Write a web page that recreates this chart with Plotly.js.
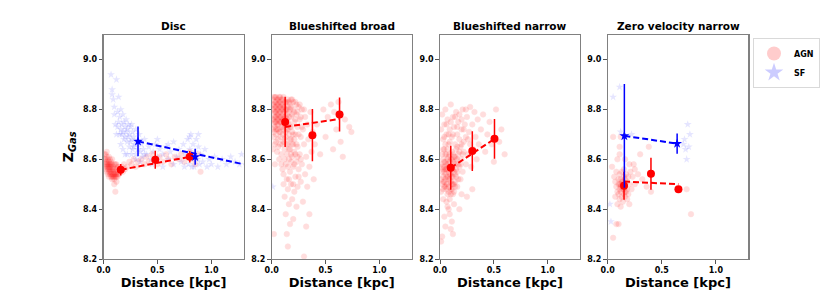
<!DOCTYPE html>
<html><head><meta charset="utf-8">
<script src="https://cdn.plot.ly/plotly-3.0.1.min.js"></script>
<style>html,body{margin:0;padding:0;background:#fff}#chart{width:831px;height:291px}</style>
</head><body><div id="chart"></div>
<script>
// ---- Panel titles ----
const panelTitles = ["Disc", "Blueshifted broad", "Blueshifted narrow", "Zero velocity narrow"];
const xTickVals = [0.0, 0.5, 1.0];
const yTickVals = [8.2, 8.4, 8.6, 8.8, 9.0];

// ---- Disc: individual spaxels ----
const discAGN = [[0.01,8.60],[0.01,8.57],[0.02,8.62],[0.02,8.59],[0.02,8.56],[0.03,8.61],[0.03,8.58],[0.03,8.55],[0.03,8.63],[0.04,8.60],[0.04,8.57],[0.04,8.54],[0.05,8.59],[0.05,8.56],[0.05,8.53],[0.05,8.61],[0.06,8.58],[0.06,8.55],[0.06,8.54],[0.07,8.57],[0.07,8.55],[0.07,8.53],[0.08,8.56],[0.08,8.54],[0.08,8.52],[0.09,8.55],[0.09,8.53],[0.09,8.57],[0.10,8.54],[0.10,8.52],[0.10,8.50],[0.11,8.55],[0.11,8.53],[0.11,8.47],[0.12,8.56],[0.12,8.54],[0.12,8.51],[0.13,8.55],[0.13,8.53],[0.14,8.57],[0.14,8.54],[0.15,8.56],[0.16,8.55],[0.17,8.57],[0.18,8.55],[0.19,8.58],[0.20,8.56],[0.22,8.57],[0.24,8.59],[0.26,8.58],[0.28,8.60],[0.30,8.57],[0.32,8.59],[0.35,8.60],[0.38,8.58],[0.40,8.61],[0.42,8.59],[0.45,8.62],[0.48,8.60],[0.50,8.58],[0.52,8.61],[0.55,8.59],[0.58,8.62],[0.60,8.60],[0.63,8.58],[0.66,8.61],[0.70,8.60],[0.72,8.62],[0.75,8.59],[0.78,8.61],[0.80,8.63],[0.82,8.60],[0.85,8.58],[0.88,8.62],[0.90,8.55],[0.02,8.58],[0.04,8.58],[0.06,8.56],[0.07,8.59],[0.08,8.58],[0.09,8.56],[0.10,8.56],[0.03,8.57],[0.05,8.57],[0.06,8.60],[0.11,8.58],[0.12,8.58],[0.13,8.57],[0.08,8.60],[0.10,8.58],[0.01,8.62],[0.02,8.60],[0.03,8.59],[0.04,8.56],[0.05,8.55],[0.06,8.57],[0.07,8.54],[0.08,8.53],[0.09,8.54],[0.10,8.53],[0.11,8.54],[0.12,8.53],[0.13,8.54],[0.05,8.58],[0.07,8.58]];
const discSF = [[0.07,8.94],[0.08,8.88],[0.08,8.86],[0.09,8.84],[0.10,8.81],[0.12,8.92],[0.13,8.79],[0.14,8.85],[0.15,8.77],[0.16,8.80],[0.17,8.74],[0.18,8.78],[0.18,8.71],[0.19,8.75],[0.20,8.73],[0.20,8.69],[0.21,8.76],[0.22,8.72],[0.22,8.67],[0.23,8.74],[0.24,8.70],[0.24,8.65],[0.25,8.73],[0.26,8.68],[0.27,8.71],[0.27,8.64],[0.28,8.69],[0.29,8.66],[0.30,8.72],[0.30,8.62],[0.31,8.67],[0.32,8.64],[0.33,8.70],[0.34,8.63],[0.35,8.66],[0.36,8.61],[0.37,8.64],[0.38,8.68],[0.40,8.62],[0.42,8.65],[0.44,8.60],[0.46,8.63],[0.48,8.66],[0.50,8.61],[0.52,8.64],[0.55,8.62],[0.58,8.65],[0.60,8.60],[0.62,8.63],[0.65,8.67],[0.68,8.61],[0.70,8.64],[0.72,8.59],[0.74,8.66],[0.76,8.62],[0.78,8.68],[0.79,8.58],[0.80,8.64],[0.81,8.70],[0.82,8.61],[0.83,8.66],[0.84,8.57],[0.85,8.63],[0.86,8.68],[0.87,8.60],[0.88,8.65],[0.89,8.58],[0.90,8.62],[0.92,8.59],[0.94,8.64],[0.96,8.57],[0.98,8.60],[1.00,8.58],[1.03,8.61],[1.06,8.57],[1.10,8.60],[1.14,8.58],[1.18,8.61],[1.22,8.59],[1.26,8.58],[1.28,8.62],[0.16,8.72],[0.17,8.70],[0.19,8.68],[0.21,8.71],[0.23,8.69],[0.25,8.67],[0.26,8.74],[0.28,8.65],[0.14,8.75],[0.15,8.70],[0.13,8.73],[0.10,8.78],[0.11,8.74],[0.12,8.70],[0.16,8.66],[0.18,8.64],[0.20,8.62],[0.22,8.62],[0.26,8.62],[0.30,8.60],[0.34,8.59],[0.38,8.62],[0.45,8.58],[0.55,8.57],[0.65,8.58],[0.75,8.57],[0.82,8.57],[0.86,8.60],[0.88,8.70],[0.80,8.69],[0.60,8.66],[0.50,8.68]];

// ---- Blueshifted broad ----
const broadAGN = [[0.01,8.84],[0.01,8.80],[0.01,8.76],[0.01,8.72],[0.02,8.82],[0.02,8.78],[0.02,8.74],[0.02,8.69],[0.03,8.85],[0.03,8.81],[0.03,8.77],[0.03,8.73],[0.03,8.66],[0.04,8.83],[0.04,8.79],[0.04,8.75],[0.04,8.70],[0.05,8.84],[0.05,8.80],[0.05,8.76],[0.05,8.72],[0.05,8.63],[0.06,8.82],[0.06,8.78],[0.06,8.74],[0.06,8.68],[0.07,8.85],[0.07,8.81],[0.07,8.77],[0.07,8.71],[0.07,8.60],[0.08,8.83],[0.08,8.79],[0.08,8.75],[0.08,8.66],[0.09,8.84],[0.09,8.80],[0.09,8.73],[0.09,8.62],[0.10,8.82],[0.10,8.78],[0.10,8.70],[0.10,8.56],[0.11,8.85],[0.11,8.76],[0.11,8.67],[0.11,8.50],[0.12,8.81],[0.12,8.74],[0.12,8.64],[0.12,8.45],[0.13,8.83],[0.13,8.77],[0.13,8.69],[0.13,8.58],[0.13,8.38],[0.14,8.80],[0.14,8.72],[0.14,8.62],[0.14,8.52],[0.14,8.30],[0.15,8.84],[0.15,8.75],[0.15,8.66],[0.15,8.48],[0.15,8.25],[0.16,8.79],[0.16,8.70],[0.16,8.60],[0.16,8.42],[0.17,8.82],[0.17,8.73],[0.17,8.64],[0.17,8.55],[0.17,8.34],[0.18,8.77],[0.18,8.68],[0.18,8.50],[0.19,8.84],[0.19,8.71],[0.19,8.61],[0.19,8.44],[0.20,8.80],[0.20,8.66],[0.20,8.57],[0.20,8.36],[0.21,8.75],[0.21,8.63],[0.21,8.47],[0.22,8.83],[0.22,8.70],[0.22,8.53],[0.23,8.78],[0.23,8.59],[0.23,8.41],[0.24,8.73],[0.24,8.65],[0.24,8.49],[0.25,8.81],[0.25,8.56],[0.26,8.76],[0.26,8.62],[0.27,8.69],[0.27,8.51],[0.28,8.80],[0.28,8.58],[0.29,8.72],[0.29,8.43],[0.30,8.66],[0.30,8.21],[0.31,8.77],[0.31,8.54],[0.32,8.61],[0.32,8.33],[0.33,8.74],[0.33,8.49],[0.34,8.68],[0.35,8.57],[0.35,8.38],[0.36,8.79],[0.37,8.63],[0.38,8.71],[0.39,8.52],[0.40,8.66],[0.42,8.74],[0.45,8.62],[0.48,8.80],[0.50,8.69],[0.52,8.77],[0.55,8.82],[0.57,8.64],[0.58,8.79],[0.60,8.72],[0.62,8.83],[0.64,8.67],[0.66,8.61],[0.68,8.76],[0.72,8.73],[0.74,8.71],[0.02,8.30],[0.03,8.58],[0.01,8.64],[0.02,8.80],[0.04,8.81],[0.06,8.80],[0.08,8.81],[0.10,8.80],[0.12,8.79],[0.14,8.78],[0.16,8.83],[0.18,8.81],[0.05,8.78],[0.07,8.75],[0.09,8.77],[0.11,8.72],[0.13,8.74],[0.03,8.79],[0.06,8.76],[0.01,8.82],[0.02,8.85],[0.02,8.76],[0.03,8.83],[0.03,8.75],[0.04,8.85],[0.04,8.77],[0.04,8.72],[0.05,8.82],[0.05,8.74],[0.06,8.84],[0.06,8.72],[0.07,8.83],[0.07,8.79],[0.08,8.85],[0.08,8.77],[0.08,8.71],[0.09,8.82],[0.09,8.75],[0.10,8.84],[0.10,8.76],[0.10,8.73],[0.11,8.81],[0.11,8.79],[0.12,8.83],[0.12,8.77],[0.13,8.80],[0.13,8.71],[0.14,8.83],[0.14,8.76],[0.15,8.81],[0.15,8.72],[0.16,8.77],[0.16,8.74],[0.17,8.80],[0.17,8.68],[0.18,8.84],[0.18,8.73],[0.19,8.78],[0.19,8.66],[0.20,8.83],[0.20,8.70],[0.21,8.79],[0.21,8.68],[0.22,8.76],[0.22,8.62],[0.23,8.82],[0.23,8.66],[0.24,8.79],[0.25,8.70],[0.26,8.82],[0.27,8.77],[0.28,8.73],[0.30,8.80],[0.12,8.68],[0.10,8.66],[0.14,8.66],[0.16,8.64],[0.18,8.62],[0.08,8.69],[0.06,8.65],[0.04,8.67],[0.02,8.71],[0.09,8.58],[0.12,8.60],[0.15,8.57],[0.18,8.59],[0.21,8.58],[0.24,8.61],[0.27,8.60],[0.11,8.54],[0.16,8.52],[0.20,8.50],[0.25,8.53]];
const broadSF = [[0.01,8.49]];

// ---- Blueshifted narrow ----
const narrowAGN = [[0.01,8.58],[0.01,8.52],[0.01,8.47],[0.01,8.72],[0.02,8.62],[0.02,8.55],[0.02,8.50],[0.02,8.78],[0.03,8.60],[0.03,8.53],[0.03,8.48],[0.03,8.68],[0.04,8.57],[0.04,8.51],[0.04,8.64],[0.04,8.74],[0.05,8.59],[0.05,8.54],[0.05,8.49],[0.05,8.80],[0.06,8.62],[0.06,8.56],[0.06,8.50],[0.06,8.70],[0.07,8.58],[0.07,8.53],[0.07,8.46],[0.07,8.76],[0.08,8.61],[0.08,8.55],[0.08,8.49],[0.08,8.66],[0.09,8.57],[0.09,8.52],[0.09,8.44],[0.09,8.72],[0.10,8.60],[0.10,8.54],[0.10,8.48],[0.10,8.82],[0.11,8.63],[0.11,8.56],[0.11,8.50],[0.11,8.69],[0.12,8.59],[0.12,8.53],[0.12,8.46],[0.12,8.77],[0.13,8.61],[0.13,8.55],[0.13,8.73],[0.14,8.58],[0.14,8.51],[0.14,8.66],[0.15,8.64],[0.15,8.56],[0.15,8.79],[0.16,8.60],[0.16,8.70],[0.16,8.49],[0.17,8.62],[0.17,8.75],[0.18,8.57],[0.18,8.68],[0.19,8.65],[0.19,8.52],[0.20,8.72],[0.20,8.60],[0.21,8.80],[0.21,8.55],[0.22,8.67],[0.22,8.63],[0.23,8.74],[0.24,8.58],[0.24,8.69],[0.25,8.77],[0.26,8.62],[0.27,8.71],[0.28,8.66],[0.28,8.81],[0.29,8.57],[0.30,8.74],[0.31,8.64],[0.32,8.79],[0.33,8.69],[0.34,8.60],[0.35,8.76],[0.36,8.66],[0.38,8.72],[0.40,8.78],[0.42,8.63],[0.44,8.70],[0.46,8.75],[0.48,8.66],[0.50,8.59],[0.52,8.80],[0.55,8.67],[0.60,8.62],[0.57,8.72],[0.01,8.27],[0.02,8.29],[0.04,8.37],[0.05,8.33],[0.07,8.41],[0.09,8.38],[0.10,8.32],[0.11,8.35],[0.12,8.30],[0.13,8.42],[0.06,8.43],[0.08,8.40],[0.03,8.44],[0.18,8.40],[0.25,8.45],[0.30,8.48],[0.20,8.46],[0.04,8.55],[0.06,8.53],[0.08,8.52],[0.10,8.51],[0.12,8.56],[0.09,8.59],[0.07,8.56],[0.05,8.52],[0.03,8.56],[0.11,8.53],[0.13,8.50],[0.14,8.54],[0.02,8.57],[0.03,8.51],[0.04,8.59],[0.04,8.49],[0.05,8.56],[0.05,8.62],[0.06,8.58],[0.06,8.48],[0.07,8.60],[0.07,8.50],[0.08,8.57],[0.08,8.47],[0.09,8.54],[0.09,8.62],[0.10,8.57],[0.10,8.46],[0.11,8.60],[0.11,8.48],[0.12,8.62],[0.12,8.50],[0.13,8.58],[0.13,8.47],[0.14,8.61],[0.14,8.49],[0.15,8.53],[0.15,8.60],[0.16,8.55],[0.16,8.65],[0.17,8.58],[0.17,8.52],[0.18,8.63],[0.19,8.58],[0.20,8.66],[0.21,8.62],[0.08,8.70],[0.10,8.75],[0.12,8.70],[0.14,8.77],[0.16,8.73],[0.18,8.78],[0.20,8.76],[0.22,8.72],[0.24,8.80],[0.26,8.68],[0.06,8.74],[0.04,8.69],[0.03,8.64],[0.05,8.66],[0.07,8.64],[0.09,8.67]];

// ---- Zero velocity narrow ----
const zeroAGN = [[0.05,8.69],[0.12,8.69],[0.11,8.65],[0.11,8.62],[0.04,8.57],[0.09,8.60],[0.16,8.60],[0.24,8.58],[0.25,8.56],[0.20,8.58],[0.38,8.65],[0.30,8.62],[0.15,8.56],[0.08,8.55],[0.06,8.53],[0.07,8.51],[0.08,8.49],[0.09,8.47],[0.10,8.52],[0.10,8.50],[0.10,8.46],[0.11,8.54],[0.11,8.48],[0.11,8.44],[0.12,8.52],[0.12,8.50],[0.12,8.47],[0.13,8.55],[0.13,8.49],[0.13,8.45],[0.14,8.51],[0.14,8.48],[0.14,8.43],[0.15,8.53],[0.15,8.50],[0.15,8.46],[0.16,8.52],[0.16,8.49],[0.16,8.45],[0.17,8.54],[0.17,8.47],[0.18,8.51],[0.18,8.48],[0.19,8.53],[0.19,8.46],[0.20,8.50],[0.21,8.55],[0.22,8.48],[0.23,8.53],[0.25,8.50],[0.28,8.54],[0.32,8.52],[0.09,8.42],[0.12,8.41],[0.18,8.44],[0.20,8.42],[0.08,8.34],[0.10,8.34],[0.05,8.285],[0.77,8.38],[0.73,8.48],[0.40,8.47],[0.36,8.49],[0.07,8.45],[0.13,8.51],[0.14,8.50],[0.12,8.49],[0.11,8.50],[0.15,8.48],[0.16,8.47]];
const zeroSF = [[0.05,8.85],[0.11,8.89],[0.03,8.35],[0.02,8.42],[0.12,8.71],[0.22,8.70],[0.70,8.66],[0.72,8.64],[0.74,8.74],[0.76,8.70],[0.73,8.60],[0.71,8.68],[0.75,8.65]];

// ---- Binned medians (x, y, error) ----
const discAgnBinX = [0.16, 0.48, 0.80], discAgnBinY = [8.558, 8.598, 8.610], discAgnBinErr = [0.023, 0.036, 0.023];
const discSfBinX = [0.32, 0.85], discSfBinY = [8.672, 8.610], discSfBinErr = [0.060, 0.032];
const broadAgnBinX = [0.125, 0.378, 0.63], broadAgnBinY = [8.750, 8.697, 8.780], broadAgnBinErr = [0.101, 0.105, 0.068];
const narrowAgnBinX = [0.10, 0.30, 0.506], narrowAgnBinY = [8.566, 8.633, 8.682], narrowAgnBinErr = [0.088, 0.080, 0.080];
const zeroAgnBinX = [0.151, 0.40, 0.654], zeroAgnBinY = [8.494, 8.542, 8.480], zeroAgnBinErr = [0.056, 0.064, 0.0];
const zeroSfBinX = [0.154, 0.642], zeroSfBinY = [8.694, 8.663], zeroSfBinErr = [0.208, 0.041];

// ---- Linear fits (dashed) ----
const discAgnFitX = [0.16, 0.80], discAgnFitY = [8.558, 8.610];
const discSfFitX = [0.32, 1.30], discSfFitY = [8.672, 8.580];
const broadAgnFitX = [0.125, 0.63], broadAgnFitY = [8.730, 8.762];
const narrowAgnFitX = [0.10, 0.506], narrowAgnFitY = [8.566, 8.682];
const zeroAgnFitX = [0.151, 0.654], zeroAgnFitY = [8.511, 8.500];
const zeroSfFitX = [0.154, 0.642], zeroSfFitY = [8.694, 8.663];

const RED = '#ff0000', BLUE = '#0000ff';
const traces = [];
function cloud(pts, ax, kind) {
  const isSF = kind === 'SF';
  traces.push({
    x: pts.map(p => p[0]), y: pts.map(p => p[1]), xaxis: 'x' + ax, yaxis: 'y' + ax,
    type: 'scatter', mode: 'markers', showlegend: false, hoverinfo: 'skip',
    marker: isSF ? {symbol: 'star', size: 6, color: BLUE, opacity: 0.1, line: {width: 0}}
                 : {symbol: 'circle', size: 5.5, color: RED, opacity: 0.13, line: {width: 0.6, color: RED}}
  });
}
function fit(x, y, ax, col) {
  traces.push({x: x, y: y, xaxis: 'x' + ax, yaxis: 'y' + ax, type: 'scatter', mode: 'lines',
    showlegend: false, line: {color: col, width: 2, dash: '6px,3px'}});
}
function bins(x, y, e, ax, col, sym) {
  traces.push({x: x, y: y, xaxis: 'x' + ax, yaxis: 'y' + ax, type: 'scatter', mode: 'markers',
    showlegend: false, marker: {symbol: sym, size: sym === 'star' ? 7.5 : 8, color: col},
    error_y: {type: 'data', array: e, visible: true, color: col, thickness: 1.5, width: 0}});
}

cloud(discAGN, '', 'AGN'); cloud(discSF, '', 'SF');
cloud(broadAGN, '2', 'AGN'); cloud(broadSF, '2', 'SF');
cloud(narrowAGN, '3', 'AGN');
cloud(zeroAGN, '4', 'AGN'); cloud(zeroSF, '4', 'SF');

fit(discAgnFitX, discAgnFitY, '', RED); fit(discSfFitX, discSfFitY, '', BLUE);
fit(broadAgnFitX, broadAgnFitY, '2', RED);
fit(narrowAgnFitX, narrowAgnFitY, '3', RED);
fit(zeroAgnFitX, zeroAgnFitY, '4', RED); fit(zeroSfFitX, zeroSfFitY, '4', BLUE);

bins(discAgnBinX, discAgnBinY, discAgnBinErr, '', RED, 'circle');
bins(discSfBinX, discSfBinY, discSfBinErr, '', BLUE, 'star');
bins(broadAgnBinX, broadAgnBinY, broadAgnBinErr, '2', RED, 'circle');
bins(narrowAgnBinX, narrowAgnBinY, narrowAgnBinErr, '3', RED, 'circle');
bins(zeroAgnBinX, zeroAgnBinY, zeroAgnBinErr, '4', RED, 'circle');
bins(zeroSfBinX, zeroSfBinY, zeroSfBinErr, '4', BLUE, 'star');

// legend entries
traces.push({x: [null], y: [null], type: 'scatter', mode: 'markers', name: 'AGN', showlegend: true,
  marker: {symbol: 'circle', size: 14, color: RED, opacity: 0.1}});
traces.push({x: [null], y: [null], type: 'scatter', mode: 'markers', name: 'SF', showlegend: true,
  marker: {symbol: 'star', size: 14, color: BLUE, opacity: 0.1}});

const W = 831, H = 291;
const xDomains = [[103.5/W, 243.7/W], [271.7/W, 411.7/W], [440/W, 580/W], [607.7/W, 748.3/W]];
const yDomain = [1 - 259/H, 1 - 34.7/H];
const F = 'DejaVu Sans, sans-serif';

const layout = {
  width: W, height: H, margin: {l: 0, r: 0, t: 0, b: 0},
  paper_bgcolor: '#fff', plot_bgcolor: '#fff', showlegend: true,
  font: {family: F, color: '#000'},
  legend: {x: 753/W, y: 1 - 38/H, xanchor: 'left', yanchor: 'top', bordercolor: '#d9d9d9', borderwidth: 1,
    bgcolor: '#fff', font: {family: F, size: 8, weight: 'bold'}, itemsizing: 'trace', itemwidth: 30, tracegroupgap: 0},
  annotations: []
};
for (let i = 0; i < 4; i++) {
  const s = i === 0 ? '' : String(i + 1);
  layout['xaxis' + s] = {domain: xDomains[i], anchor: 'y' + s, range: [0, 1.3], tickvals: xTickVals,
    ticktext: xTickVals.map(v => v.toFixed(1)), ticks: 'outside', ticklen: 3.5, tickwidth: 1, tickcolor: '#555',
    showline: true, mirror: true, linecolor: '#808080', linewidth: 1.2, showgrid: false, zeroline: false,
    tickfont: {family: F, size: 8, weight: 'bold'},
    title: {text: 'Distance [kpc]', font: {family: F, size: 13, weight: 'bold'}, standoff: 2}};
  layout['yaxis' + s] = {domain: yDomain, anchor: 'x' + s, range: [8.2, 9.1], tickvals: yTickVals,
    ticktext: yTickVals.map(v => v.toFixed(1)), ticks: 'outside', ticklen: 3.5, tickwidth: 1, tickcolor: '#555',
    showline: true, mirror: true, linecolor: '#808080', linewidth: 1.2, showgrid: false, zeroline: false,
    tickfont: {family: F, size: 8, weight: 'bold'}};
  layout.annotations.push({text: '<b>' + panelTitles[i] + '</b>', xref: 'paper', yref: 'paper',
    x: (xDomains[i][0] + xDomains[i][1]) / 2, y: yDomain[1], xanchor: 'center', yanchor: 'bottom', yshift: 1,
    showarrow: false, font: {family: F, size: 10.5, color: '#000'}});
}
layout.yaxis.title = {text: '<b>Z<sub><i>Gas</i></sub></b>', font: {family: F, size: 14}, standoff: 6};

Plotly.newPlot('chart', traces, layout, {displayModeBar: false, staticPlot: true});
</script></body></html>
